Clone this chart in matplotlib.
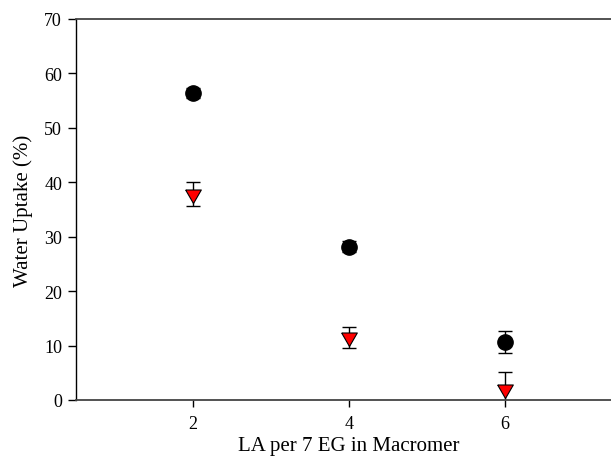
import matplotlib.pyplot as plt
import numpy as np

# Water uptake vs. lactide content of the macromer
la_per_eg = [2, 4, 6]
uptake_circle = [56.4, 28.2, 10.6]
err_circle = [1.0, 1.0, 2.05]
uptake_tri = [37.8, 11.5, 2.05]
err_tri = [2.2, 1.9, 3.15]

plt.rcParams['font.family'] = ['Liberation Serif', 'DejaVu Serif']

fig = plt.figure(figsize=(6.11, 4.60), dpi=100)
# axes runs a little past the right edge of the canvas
ax = fig.add_axes([76 / 611, 59 / 460, 546 / 611, 381 / 460])

# downward triangle with its centroid on the data point
tri = [(-1, 0.577), (1, 0.577), (0, -1.155), (-1, 0.577)]

ax.errorbar(la_per_eg, uptake_tri, yerr=err_tri, fmt='none', ecolor='black',
            elinewidth=1.0, capsize=4.8, capthick=1.0, zorder=2)
ax.plot(la_per_eg, uptake_tri, linestyle='none', marker=tri, markersize=13,
        markerfacecolor='#ff0000', markeredgecolor='black', markeredgewidth=0.8, zorder=3)

ax.errorbar(la_per_eg, uptake_circle, yerr=err_circle, fmt='none', ecolor='black',
            elinewidth=1.0, capsize=4.8, capthick=1.0, zorder=2)
ax.plot(la_per_eg, uptake_circle, linestyle='none', marker='o', markersize=11,
        markerfacecolor='black', markeredgecolor='black', zorder=3)

ax.set_xlim(0.5, 7.5)
ax.set_ylim(0, 70)
ax.set_xticks([2, 4, 6])
ax.set_yticks(np.arange(0, 71, 10))

ax.set_xlabel('LA per 7 EG in Macromer', fontsize=15, labelpad=3)
ax.set_ylabel('Water Uptake (%)', fontsize=15, labelpad=8)

ax.tick_params(axis='both', direction='out', labelsize=13, colors='black')
ax.tick_params(axis='y', length=6, width=1.0, pad=4)
ax.tick_params(axis='x', length=5, width=1.0, pad=6)

ax.spines['left'].set_color('black')
ax.spines['left'].set_linewidth(1.0)
for side in ('bottom', 'top', 'right'):
    ax.spines[side].set_color('#444444')
    ax.spines[side].set_linewidth(1.3)

fig.savefig('out.png', dpi=100)
